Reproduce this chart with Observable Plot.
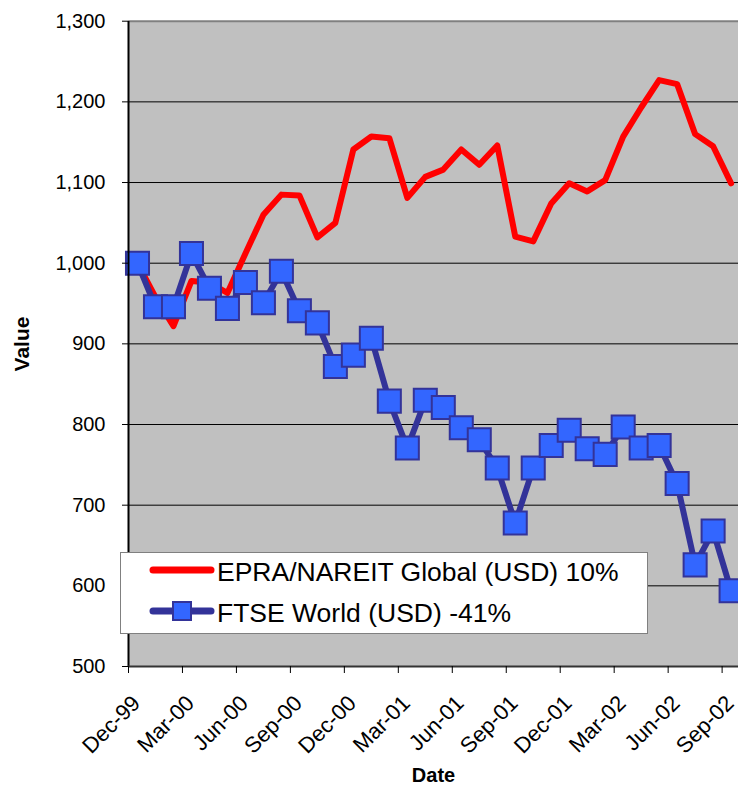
<!DOCTYPE html>
<html>
<head>
<meta charset="utf-8">
<script src="https://cdn.jsdelivr.net/npm/d3@7"></script>
<script src="https://cdn.jsdelivr.net/npm/@observablehq/plot@0.6"></script>
<style>
  body { margin: 0; background: #fff; }
  #wrap { position: relative; width: 738px; height: 786px; overflow: hidden; font-family: "Liberation Sans", Arial, sans-serif; }
  #legend { position: absolute; left: 120px; top: 552px; width: 528px; height: 82px; background: #fff; border: 1.5px solid #808080; box-sizing: border-box; }
</style>
</head>
<body>
<div id="wrap"></div>
<script>
// ---- data ----
const months = ["Dec-99","Jan-00","Feb-00","Mar-00","Apr-00","May-00","Jun-00","Jul-00","Aug-00","Sep-00","Oct-00","Nov-00",
  "Dec-00","Jan-01","Feb-01","Mar-01","Apr-01","May-01","Jun-01","Jul-01","Aug-01","Sep-01","Oct-01","Nov-01",
  "Dec-01","Jan-02","Feb-02","Mar-02","Apr-02","May-02","Jun-02","Jul-02","Aug-02","Sep-02"];
const epra = [1000, 958, 922, 978, 976, 963, 1012, 1060, 1085, 1084, 1032, 1050,
  1141, 1157, 1155, 1081, 1107, 1116, 1141, 1122, 1146, 1033, 1027, 1074,
  1099, 1089, 1103, 1157, 1193, 1227, 1222, 1160, 1145, 1099];
const ftse = [1000, 946, 946, 1012, 969, 944, 976, 951, 990, 941, 926, 872,
  886, 907, 829, 771, 830, 821, 796, 781, 746, 678, 746, 774,
  793, 770, 763, 797, 771, 774, 727, 626, 668, 594];
const tickLabels = ["Dec-99","Mar-00","Jun-00","Sep-00","Dec-00","Mar-01","Jun-01","Sep-01","Dec-01","Mar-02","Jun-02","Sep-02"];
const yTicks = [500, 600, 700, 800, 900, 1000, 1100, 1200, 1300];
const seriesNames = ["EPRA/NAREIT Global (USD) 10%", "FTSE World (USD) -41%"];
const colors = { epra: "#FF0000", ftseLine: "#333399", ftseFill: "#3366FF" };

// ---- derived table ----
const table = months.map((m, i) => ({ month: m, idx: i, epra: epra[i], ftse: ftse[i] }));
const tickIdx = tickLabels.map(t => months.indexOf(t));
const xc = d => d.idx + 0.5;

const chart = Plot.plot({
  width: 738,
  height: 786,
  marginLeft: 128,
  marginRight: 0,
  marginTop: 21,
  marginBottom: 120,
  style: { fontFamily: "'Liberation Sans', Arial, sans-serif", background: "white", color: "black", overflow: "visible" },
  x: { type: "linear", domain: [0, months.length], range: [128, 739.6], label: null },
  y: { domain: [500, 1300], range: [666, 20.7], label: null },
  marks: [
    Plot.frame({ fill: "#C0C0C0", stroke: null }),
    Plot.ruleY(yTicks.slice(1, -1), { stroke: "#000", strokeWidth: 1 }),
    Plot.ruleY([1300], { stroke: "#808080", strokeWidth: 2 }),
    Plot.line(table, { x: xc, y: "epra", stroke: colors.epra, strokeWidth: 6, strokeLinejoin: "round", strokeLinecap: "round" }),
    Plot.line(table, { x: xc, y: "ftse", stroke: colors.ftseLine, strokeWidth: 6, strokeLinejoin: "round", strokeLinecap: "round" }),
    Plot.dot(table, { x: xc, y: "ftse", symbol: "square", r: 13, fill: colors.ftseFill, stroke: colors.ftseLine, strokeWidth: 2 }),
    Plot.ruleX([0], { stroke: "#000", strokeWidth: 2 }),
    Plot.ruleY([500], { stroke: "#333", strokeWidth: 2 }),
    Plot.axisY({ ticks: yTicks, tickFormat: d3.format(","), fontSize: 20, tickSize: 6, tickPadding: 17, label: null, color: "black" }),
    Plot.axisX({ ticks: tickIdx, tickFormat: () => "", tickSize: 7, label: null }),
    Plot.text(tickIdx, { x: d => d, frameAnchor: "bottom", text: (d, i) => tickLabels[i], rotate: -45, textAnchor: "end", lineAnchor: "middle", dx: 8, dy: 33, fontSize: 22, fill: "black" }),
    Plot.text(["Value"], { frameAnchor: "left", rotate: -90, textAnchor: "middle", lineAnchor: "middle", dx: -106, fontSize: 21, fontWeight: "bold", fill: "black" }),
    Plot.text(["Date"], { frameAnchor: "bottom", textAnchor: "middle", lineAnchor: "middle", dy: 109, fontSize: 20, fontWeight: "bold", fill: "black" })
  ]
});

const wrap = document.getElementById("wrap");
wrap.appendChild(chart);

// legend (HTML overlay inside the plot area, like the original)
const legend = document.createElement("div");
legend.id = "legend";
const ns = "http://www.w3.org/2000/svg";
const lsvg = document.createElementNS(ns, "svg");
lsvg.setAttribute("width", 528);
lsvg.setAttribute("height", 82);
lsvg.style.position = "absolute";
lsvg.style.left = "-1.5px";
lsvg.style.top = "-1.5px";
function add(tag, attrs, text) {
  const el = document.createElementNS(ns, tag);
  for (const k in attrs) el.setAttribute(k, attrs[k]);
  if (text) el.textContent = text;
  lsvg.appendChild(el);
  return el;
}
add("line", { x1: 33, x2: 91, y1: 18, y2: 18, stroke: colors.epra, "stroke-width": 7, "stroke-linecap": "round" });
add("text", { x: 97, y: 29, "font-size": 26.5, "font-family": "'Liberation Sans', Arial, sans-serif", fill: "#000" }, seriesNames[0]);
add("line", { x1: 33, x2: 91, y1: 59, y2: 59, stroke: colors.ftseLine, "stroke-width": 7, "stroke-linecap": "round" });
add("rect", { x: 53, y: 50, width: 18, height: 18, fill: colors.ftseFill, stroke: colors.ftseLine, "stroke-width": 2 });
add("text", { x: 97, y: 70, "font-size": 26.5, "font-family": "'Liberation Sans', Arial, sans-serif", fill: "#000" }, seriesNames[1]);
legend.appendChild(lsvg);
wrap.appendChild(legend);
</script>
</body>
</html>
